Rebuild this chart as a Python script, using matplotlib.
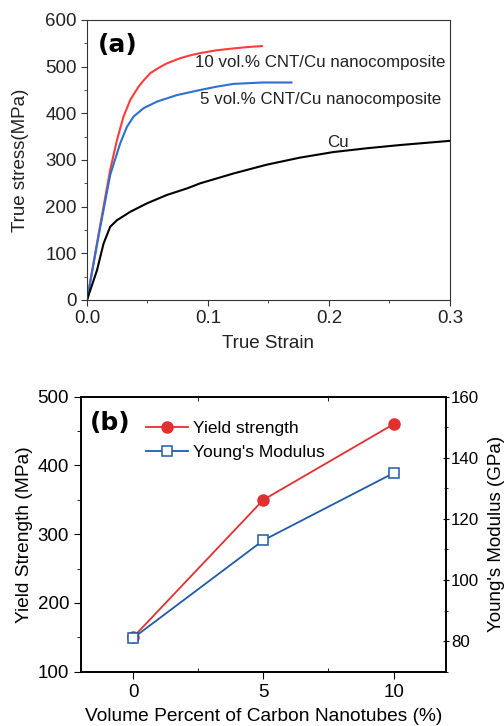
import matplotlib
matplotlib.use("Agg")
import matplotlib.pyplot as plt
from matplotlib.ticker import MultipleLocator, FormatStrFormatter

plt.rcParams['font.family'] = ['Liberation Sans', 'DejaVu Sans']

# ---- Panel (a): true stress-strain curves ----
strain_10 = [0.0, 0.0095, 0.0192, 0.0248, 0.0302, 0.0358, 0.0426, 0.047, 0.0523, 0.059, 0.066,
             0.077, 0.085, 0.0936, 0.107, 0.121, 0.133, 0.1445]
stress_10 = [0, 140, 279, 343, 393, 429, 457, 471, 486, 497, 507, 518, 524, 529, 535, 539, 542, 544]

strain_5 = [0.0, 0.0095, 0.0192, 0.0275, 0.033, 0.0385, 0.0468, 0.0578, 0.0743, 0.0936,
            0.107, 0.121, 0.145, 0.169]
stress_5 = [0, 136, 268, 336, 371, 393, 411, 425, 439, 450, 457, 463, 466, 466]

strain_cu = [0.0, 0.0083, 0.0137, 0.0192, 0.0248, 0.0358, 0.0495, 0.066, 0.0826, 0.0936, 0.121,
             0.1487, 0.176, 0.2037, 0.231, 0.2587, 0.3]
stress_cu = [0, 64, 121, 157, 171, 189, 207, 225, 239, 250, 271, 290, 305, 317, 325, 332, 341]

# ---- Panel (b): yield strength and Young's modulus ----
cnt_vol = [0, 5, 10]
yield_strength = [150, 350, 460]
youngs_modulus = [81, 113, 135]

fig = plt.figure(figsize=(5.04, 7.26), dpi=100)

# Panel (a)
ax1 = fig.add_axes([0.1726, 0.5868, 0.7202, 0.3857])
ax1.plot(strain_10, stress_10, color='#ff3b3b', lw=1.5)
ax1.plot(strain_5, stress_5, color='#2f6fcf', lw=1.5)
ax1.plot(strain_cu, stress_cu, color='black', lw=1.5)
ax1.set_xlim(0, 0.3)
ax1.set_ylim(0, 600)
ax1.xaxis.set_major_locator(MultipleLocator(0.1))
ax1.xaxis.set_minor_locator(MultipleLocator(0.05))
ax1.yaxis.set_major_locator(MultipleLocator(100))
ax1.yaxis.set_minor_locator(MultipleLocator(50))
ax1.xaxis.set_major_formatter(FormatStrFormatter('%.1f'))
ax1.tick_params(which='both', direction='out', labelsize=13.5, color='#333333', labelcolor='#222222')
ax1.tick_params(which='major', length=4)
ax1.tick_params(which='minor', length=2.5)
for s in ax1.spines.values():
    s.set_color('#333333')
ax1.set_xlabel('True Strain', fontsize=13.5, color='#222222')
ax1.set_ylabel('True stress(MPa)', fontsize=13.5, color='#222222')
ax1.xaxis.label.set_va('center')
ax1.yaxis.label.set_va('center')
ax1.xaxis.set_label_coords(0.5, -0.154)
ax1.yaxis.set_label_coords(-0.184, 0.5)
ax1.text(0.0894, 508, '10 vol.% CNT/Cu nanocomposite', fontsize=12.2, va='center', ha='left', color='#222222')
ax1.text(0.0936, 429, '5 vol.% CNT/Cu nanocomposite', fontsize=12.2, va='center', ha='left', color='#222222')
ax1.text(0.2075, 337, 'Cu', fontsize=12.2, va='center', ha='center', color='#222222')
ax1.text(0.009, 546, '(a)', fontsize=18, fontweight='bold', family=['DejaVu Sans'], va='center', ha='left')

# Panel (b)
ax2 = fig.add_axes([0.1607, 0.0748, 0.7236, 0.3788])
ax3 = ax2.twinx()
l1, = ax2.plot(cnt_vol, yield_strength, color='#e03030', lw=1.3, marker='o', ms=8,
               markerfacecolor='#e03030', markeredgecolor='#e03030', label='Yield strength')
l2, = ax3.plot(cnt_vol, youngs_modulus, color='#1f5aa6', lw=1.3, marker='s', ms=7,
               markerfacecolor='white', markeredgecolor='#1f5aa6', markeredgewidth=1.1,
               label="Young's Modulus")
ax2.set_xlim(-2, 12)
ax2.set_ylim(100, 500)
ax3.set_ylim(70, 160)
ax2.xaxis.set_major_locator(MultipleLocator(5))
ax2.xaxis.set_minor_locator(MultipleLocator(2.5))
ax2.yaxis.set_major_locator(MultipleLocator(100))
ax2.yaxis.set_minor_locator(MultipleLocator(50))
ax3.yaxis.set_minor_locator(MultipleLocator(10))
ax3.set_yticks([80, 100, 120, 140, 160])
ax2.tick_params(which='both', direction='out', labelsize=13.5)
ax2.tick_params(which='major', length=5)
ax2.tick_params(which='minor', length=3)
ax2.tick_params(axis='x', which='minor', top=True, direction='in')
ax3.tick_params(which='both', direction='inout', labelsize=12.2, pad=1.5)
ax3.tick_params(which='major', length=5)
ax3.tick_params(which='minor', length=3)
for a in (ax2, ax3):
    for s in a.spines.values():
        s.set_linewidth(1.2)
ax2.set_xlabel('Volume Percent of Carbon Nanotubes (%)', fontsize=13.8)
ax2.set_ylabel('Yield Strength (MPa)', fontsize=13.8)
ax3.set_ylabel("Young's Modulus (GPa)", fontsize=13.5)
ax2.xaxis.label.set_va('center')
ax2.yaxis.label.set_va('center')
ax3.yaxis.label.set_va('center')
ax2.xaxis.set_label_coords(0.5, -0.163)
ax2.yaxis.set_label_coords(-0.156, 0.5)
ax3.yaxis.set_label_coords(1.14, 0.5)
ax2.text(-1.65, 462, '(b)', fontsize=18, fontweight='bold', family=['DejaVu Sans'], va='center', ha='left')
ax2.legend(handles=[l1, l2], loc='upper left', bbox_to_anchor=(0.178, 0.912), frameon=False,
           fontsize=12.5, handlelength=2.4, handletextpad=0.3, borderpad=0, borderaxespad=0,
           labelspacing=0.5)

fig.savefig('out.png', dpi=100)
